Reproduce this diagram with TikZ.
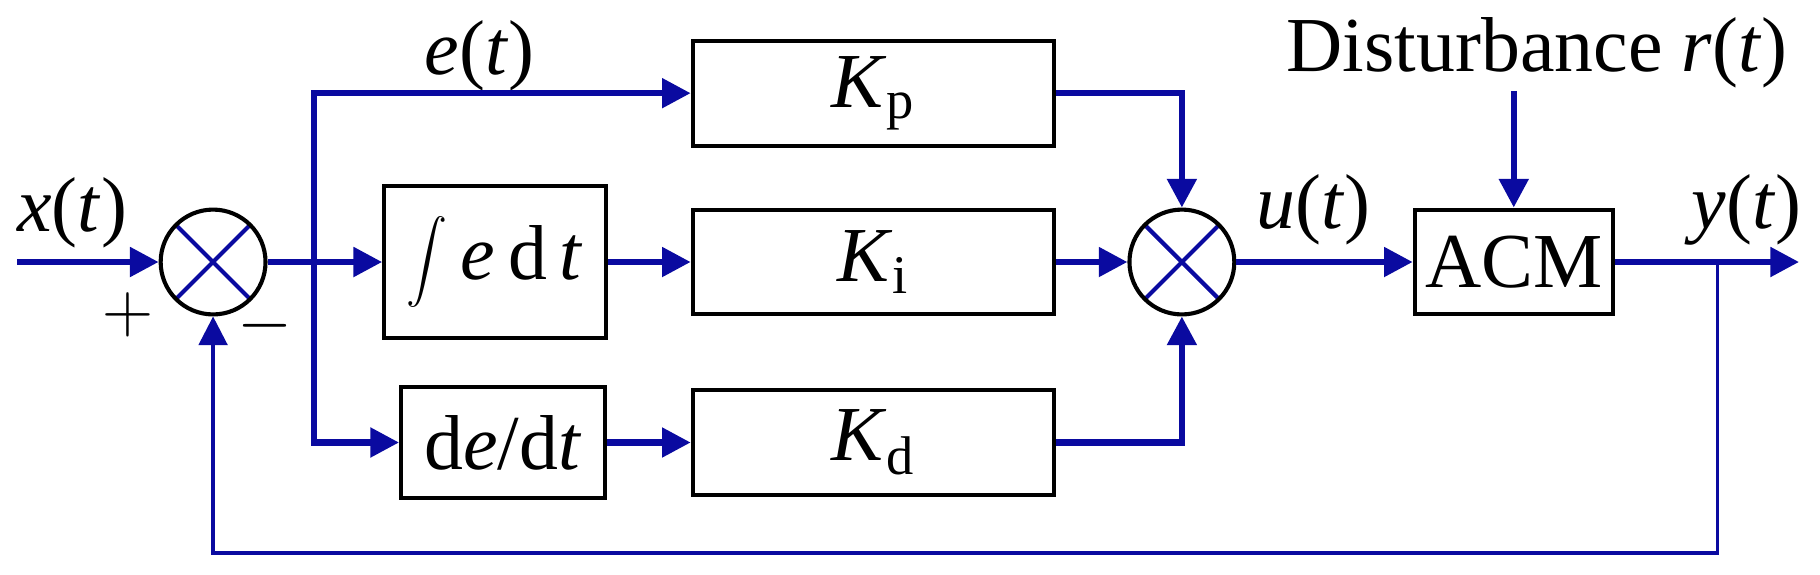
\documentclass[tikz,border=0pt]{standalone}
\usepackage{fontspec}
\setmainfont{Liberation Serif}
\usetikzlibrary{arrows.meta}
\definecolor{sig}{RGB}{10,10,160}
\newcommand{\vi}[1]{\textit{#1}}
\begin{document}
\begin{tikzpicture}[x=0.01cm,y=-0.01cm,
  blk/.style={draw=black,line width=1pt,minimum height=0.9cm,inner sep=0pt,font=\fontsize{19}{22}\selectfont},
  sum/.style={draw=black,line width=1pt,circle,minimum size=0.9cm,inner sep=0pt,
    path picture={\draw[sig,line width=1pt] (path picture bounding box.south west)--(path picture bounding box.north east) (path picture bounding box.north west)--(path picture bounding box.south east);}},
  sigl/.style={sig,line width=1.5pt,-{Triangle[length=7pt,width=7pt]}},
  sigp/.style={sig,line width=1.5pt},
  lbl/.style={font=\fontsize{19}{22}\selectfont}]
\useasboundingbox (0,0) rectangle (1563,493);
\node[sum] (s1) at (183,225) {};
\node[sum] (s2) at (1015,225) {};
\node[blk,minimum width=3.1cm] (kp) at (750,80) {\vi{K}\textsubscript{p}};
\node[blk,minimum width=3.1cm] (ki) at (750,225) {\vi{K}\textsubscript{i}};
\node[blk,minimum width=3.1cm] (kd) at (750,380) {\vi{K}\textsubscript{d}};
\node[blk,minimum width=1.9cm,minimum height=1.3cm] (int) at (425,225) {$\displaystyle\int$\,\vi{e}\,d\,\vi{t}};
\node[blk,minimum width=1.75cm,minimum height=0.95cm] (der) at (432,380) {d\vi{e}/d\vi{t}};
\node[blk,minimum width=1.7cm] (acm) at (1300,225) {ACM};
\coordinate (in) at (15,225);
\coordinate (br) at (270,225);
\coordinate (out) at (1545,225);
\coordinate (fb) at (1475,225);
\coordinate (dist) at (1300,78);
\node[lbl] (xl) at (62,183) {\vi{x}(\vi{t})};
\node[lbl] (pl) at (110,270) {$+$};
\node[lbl] (ml) at (228,280) {$-$};
\node[lbl] (el) at (412,48) {\vi{e}(\vi{t})};
\node[lbl] (ul) at (1128,180) {\vi{u}(\vi{t})};
\node[lbl] (yl) at (1500,180) {\vi{y}(\vi{t})};
\node[lbl] (dl) at (1320,45) {Disturbance \vi{r}(\vi{t})};
\draw[sigl] (in) -- (s1.west);
\draw[sigp] (s1.east) -- (br);
\draw[sigl] (br) -- (int.west);
\draw[sigl] (br) |- (kp.west);
\draw[sigl] (br) |- (der.west);
\draw[sigl] (int.east) -- (ki.west);
\draw[sigl] (der.east) -- (kd.west);
\draw[sigl] (ki.east) -- (s2.west);
\draw[sigl] (kp.east) -| (s2.north);
\draw[sigl] (kd.east) -| (s2.south);
\draw[sigl] (s2.east) -- (acm.west);
\draw[sigl] (dist) -- (acm.north);
\draw[sigl] (acm.east) -- (out);
\draw[sig,line width=0.8pt,-{Triangle[length=7pt,width=7pt]}] (fb) -- (1475,475) -| (s1.south);
\end{tikzpicture}
\end{document}
